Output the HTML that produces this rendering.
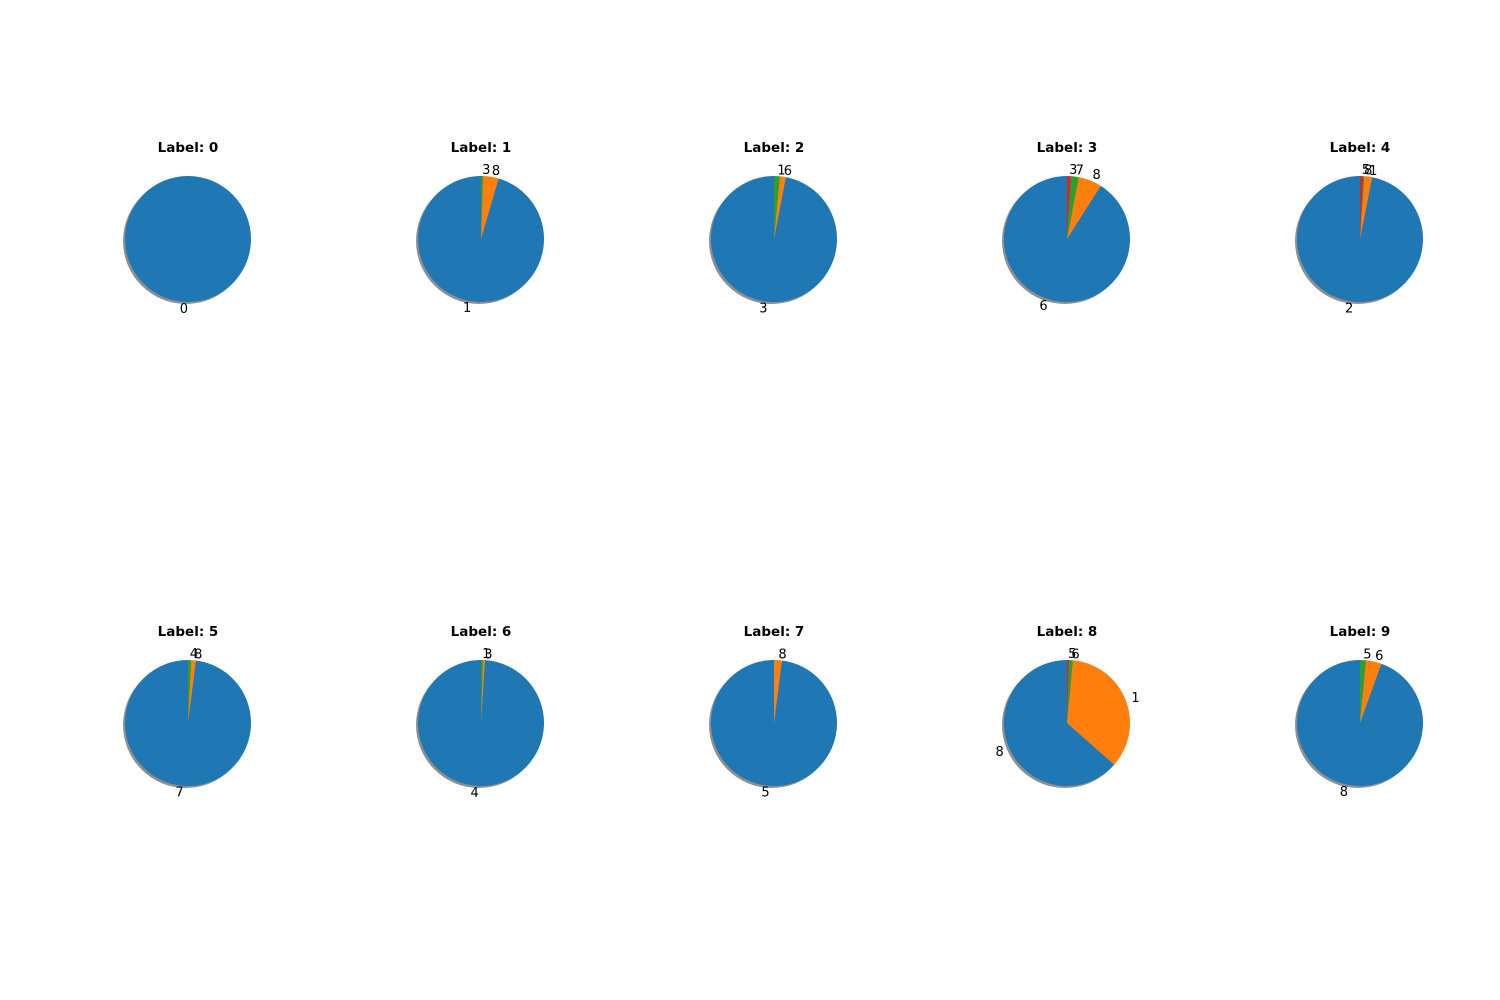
<!DOCTYPE html>
<html><head><meta charset="utf-8"><style>
body{margin:0;background:#fff}
svg{display:block}
text{font-family:"DejaVu Sans","Liberation Sans",sans-serif}
</style></head><body>
<svg id="fig" width="1500" height="1000" viewBox="0 0 1500 1000" xmlns="http://www.w3.org/2000/svg"></svg>
<script>
const titles = ["Label: 0","Label: 1","Label: 2","Label: 3","Label: 4","Label: 5","Label: 6","Label: 7","Label: 8","Label: 9"];
const sliceLabels = [["0"],["1","8","3"],["3","6","1"],["6","8","7","3"],["2","1","8","5"],["7","8","4"],["4","3","1"],["5","8"],["8","1","6","5"],["8","6","5"]];
const sliceValues = [[100],[95.5,4,0.5],[97,1.5,1.5],[91,6,2,1],[96.9,2,0.3,0.8],[98,1.2,0.8],[99,0.5,0.5],[98,2],[63.5,35,1,0.5],[94.5,4,1.5]];
const colors = ["#1f77b4","#ff7f0e","#2ca02c","#d62728"];
const colX = [188,481,774,1067,1360];
const rowY = [239,723];
const R = 63;
const svg = document.getElementById('fig');
const NS = "http://www.w3.org/2000/svg";
function pt(cx,cy,r,deg){const a=deg*Math.PI/180;return [cx+r*Math.cos(a),cy-r*Math.sin(a)];}
titles.forEach((t,i)=>{
  const cx = colX[i%5], cy = rowY[Math.floor(i/5)];
  const g = document.createElementNS(NS,'g');
  
  
  svg.appendChild(g);
  const ti = document.createElementNS(NS,'text');
  
  
  ti.setAttribute('x',cx);ti.setAttribute('y',cy-87);
  ti.setAttribute('text-anchor','middle');ti.setAttribute('font-size','13.5');ti.setAttribute('font-weight','bold');
  ti.textContent=t;g.appendChild(ti);
  const sh = document.createElementNS(NS,'circle');
  
  
  sh.setAttribute('cx',cx-2);sh.setAttribute('cy',cy+2);sh.setAttribute('r',R);
  sh.setAttribute('fill','#444');sh.setAttribute('opacity','0.6');g.appendChild(sh);
  const vals = sliceValues[i]; const tot = vals.reduce((a,b)=>a+b,0);
  let start = 90;
  vals.forEach((v,j)=>{
    const span = v/tot*360; const end = start+span;
    let el;
    if(span>=359.999){
      el=document.createElementNS(NS,'circle');
      el.setAttribute('cx',cx);el.setAttribute('cy',cy);el.setAttribute('r',R);
    } else {
      el=document.createElementNS(NS,'path');
      const p1=pt(cx,cy,R,start),p2=pt(cx,cy,R,end);
      el.setAttribute('d',`M${cx},${cy} L${p1[0]},${p1[1]} A${R},${R} 0 ${span>180?1:0} 0 ${p2[0]},${p2[1]} Z`);
    }
    
    
    el.setAttribute('fill',colors[j%colors.length]);
    g.appendChild(el);
    const mid=(start+end)/2; const lp=pt(cx,cy,R*1.1,mid);
    const tx=document.createElementNS(NS,'text');
    
    
    tx.setAttribute('x',lp[0]);tx.setAttribute('y',lp[1]+4.5);tx.setAttribute('font-size','13');
    tx.setAttribute('text-anchor',Math.cos(mid*Math.PI/180)>1e-9?'start':'end');
    tx.textContent=sliceLabels[i][j];g.appendChild(tx);
    start=end;
  });
});
</script>
</body></html>
